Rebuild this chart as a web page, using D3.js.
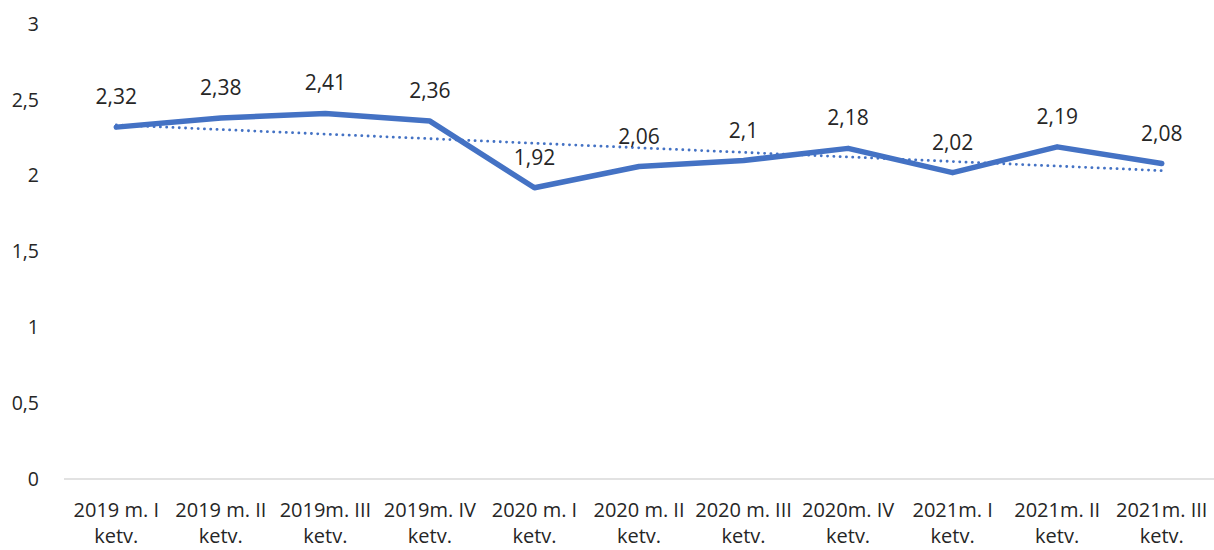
<!DOCTYPE html>
<html>
<head>
<meta charset="utf-8">
<script src="https://cdn.jsdelivr.net/npm/d3@7"></script>
<style>
  body { margin: 0; background: #fff; }
  text { font-family: "Open Sans", "Liberation Sans", sans-serif; fill: #262626; }
</style>
</head>
<body>
<svg id="chart"></svg>
<script>
const categories = [
  ["2019 m. I", "ketv."], ["2019 m. II", "ketv."], ["2019m. III", "ketv."],
  ["2019m. IV", "ketv."], ["2020 m. I", "ketv."], ["2020 m. II", "ketv."],
  ["2020 m. III", "ketv."], ["2020m. IV", "ketv."], ["2021m. I", "ketv."],
  ["2021m. II", "ketv."], ["2021m. III", "ketv."]
];
const values = [2.32, 2.38, 2.41, 2.36, 1.92, 2.06, 2.1, 2.18, 2.02, 2.19, 2.08];
const yTicks = [0, 0.5, 1, 1.5, 2, 2.5, 3];

const width = 1214, height = 550;
const margin = { top: 24, right: 0, bottom: 71, left: 64 };
const fmt = v => String(v).replace(".", ",");

const svg = d3.select("#chart").attr("width", width).attr("height", height);

const x = d3.scaleBand()
  .domain(categories.map((d, i) => i))
  .range([margin.left, width - margin.right]);

const y = d3.scaleLinear()
  .domain([0, 3])
  .range([height - margin.bottom, margin.top]);

const cx = i => x(i) + x.bandwidth() / 2;

// y axis labels only
svg.append("g")
  .attr("transform", `translate(${margin.left - 22},0)`)
  .call(d3.axisLeft(y).tickValues(yTicks).tickFormat(fmt).tickSize(0))
  .call(g => g.select(".domain").remove())
  .call(g => g.selectAll("text").attr("font-size", 19.5).attr("font-family", "'Open Sans', sans-serif").attr("fill", "#262626"));

// baseline
svg.append("line")
  .attr("x1", margin.left).attr("x2", width - margin.right)
  .attr("y1", y(0)).attr("y2", y(0))
  .attr("stroke", "#d9d9d9").attr("stroke-width", 1.5);

// x labels
const xl = svg.append("g").selectAll("text")
  .data(categories).join("text")
  .attr("text-anchor", "middle")
  .attr("font-size", 20);
xl.append("tspan").attr("x", (d, i) => cx(i)).attr("y", y(0) + 38).text(d => d[0]);
xl.append("tspan").attr("x", (d, i) => cx(i)).attr("y", y(0) + 64).text(d => d[1]);

// linear trendline (least squares over the series)
const n = values.length;
const mx = d3.mean(values, (d, i) => i);
const my = d3.mean(values);
const slope = d3.sum(values, (d, i) => (i - mx) * (d - my)) / d3.sum(values, (d, i) => (i - mx) ** 2);
const trend = [0, n - 1].map(i => [i, my + slope * (i - mx)]);

svg.append("path")
  .datum(trend)
  .attr("fill", "none")
  .attr("stroke", "#4472C4")
  .attr("stroke-width", 2.8)
  .attr("stroke-linecap", "round")
  .attr("stroke-dasharray", "0.1,6.2")
  .attr("d", d3.line().x(d => cx(d[0])).y(d => y(d[1])));

// main line
svg.append("path")
  .datum(values)
  .attr("fill", "none")
  .attr("stroke", "#4472C4")
  .attr("stroke-width", 5.5)
  .attr("stroke-linecap", "round")
  .attr("stroke-linejoin", "round")
  .attr("d", d3.line().x((d, i) => cx(i)).y(d => y(d)));

// data labels
svg.append("g").selectAll("text")
  .data(values).join("text")
  .attr("x", (d, i) => cx(i))
  .attr("y", d => y(d) - 23)
  .attr("text-anchor", "middle")
  .attr("font-size", 21)
  .text(fmt);
</script>
</body>
</html>
